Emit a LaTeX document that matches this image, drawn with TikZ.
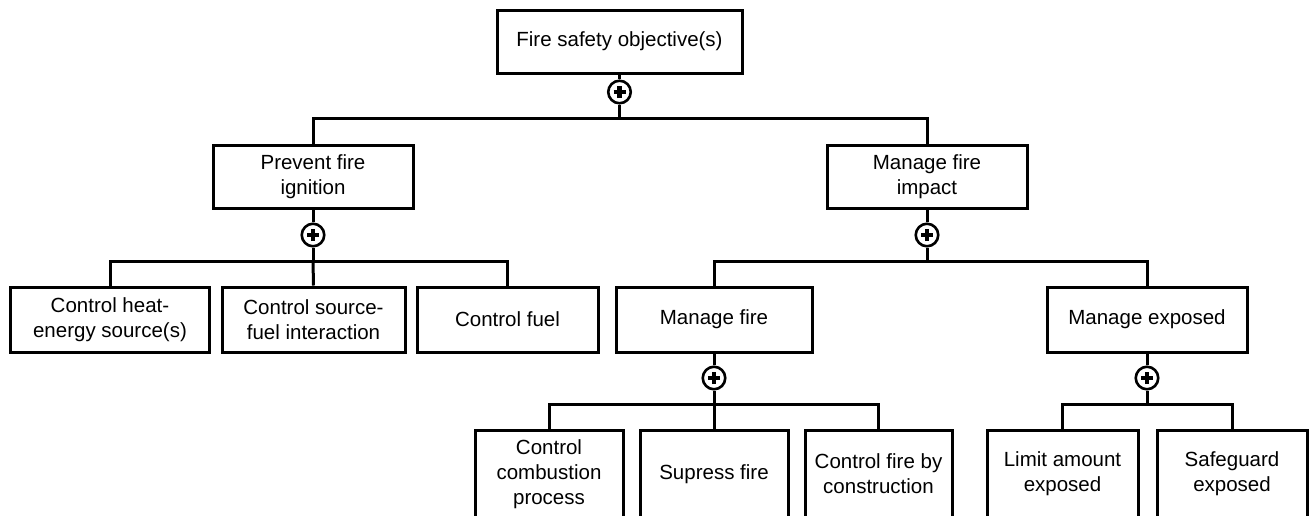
\documentclass[tikz,border=0pt]{standalone}
\usepackage{fontspec}
\setmainfont{Liberation Sans}
\usepackage{tikz}
\usetikzlibrary{positioning}

\begin{document}
\begin{tikzpicture}[x=1pt, y=-1pt,
    goal/.style={draw, line width=3pt, align=center, inner sep=0pt,
        font=\fontsize{20.5}{25}\selectfont},
    orgate/.style={circle, draw, line width=2.6pt, minimum size=22.5pt, inner sep=0pt,
        path picture={\draw[line width=4.5pt] (path picture bounding box.center) +(-6pt,0) -- +(6pt,0)
            (path picture bounding box.center) +(0,-6pt) -- +(0,6pt);}},
    link/.style={line width=3pt}]
\useasboundingbox (0,0) rectangle (1311,515);
\clip (0,0) rectangle (1311,515);

% top level
\node[goal, minimum width=245pt, minimum height=63pt] (top) at (619.5,41.5) {Fire safety objective(s)};
\node[orgate] (g0) at (619.5,92) {};

\node[goal, minimum width=200pt, minimum height=63pt] (prevent) at (313,176.5) {Prevent fire\\ignition};
\node[goal, minimum width=200pt, minimum height=63pt] (impact) at (927,176.5) {Manage fire\\impact};
\node[orgate] (g1) at (313,235) {};
\node[orgate] (g2) at (927,235) {};

% second level
\node[goal, minimum width=199pt, minimum height=65pt] (heat) at (110,319.5) {Control heat-\\energy source(s)};
\node[goal, minimum width=183pt, minimum height=65pt] (srcfuel) at (313.5,319.5) {Control source-\\fuel interaction};
\node[goal, minimum width=181pt, minimum height=65pt] (fuel) at (507.5,319.5) {Control fuel};
\node[goal, minimum width=196pt, minimum height=65pt] (mfire) at (714,319.5) {Manage fire};
\node[goal, minimum width=200pt, minimum height=65pt] (mexp) at (1147,319.5) {Manage exposed};
\node[orgate] (g3) at (714,378) {};
\node[orgate] (g4) at (1147,378) {};

% third level (cut off at the bottom)
\node[goal, minimum width=148pt, minimum height=88pt] (comb) at (549,474) {Control\\combustion\\process};
\node[goal, minimum width=148pt, minimum height=88pt] (supp) at (714,474) {Supress fire};
\node[goal, minimum width=147pt, minimum height=88pt] (constr) at (878.5,474) {Control fire by\\construction};
\node[goal, minimum width=151pt, minimum height=88pt] (limit) at (1062.5,474) {Limit amount\\exposed};
\node[goal, minimum width=150pt, minimum height=88pt] (safe) at (1232,474) {Safeguard\\exposed};

\coordinate (b0) at (619.5,118);
\coordinate (b1) at (313,261);
\coordinate (b2) at (927,261);
\coordinate (b3) at (714,404);
\coordinate (b4) at (1147,404);

\draw[link] (top) -- (g0);
\draw[link] (g0) -- (b0) -| (prevent.north);
\draw[link] (b0) -| (impact.north);

\draw[link] (prevent) -- (g1);
\draw[link] (g1) -- (b1) -| (heat.north);
\draw[link] (b1) -- (srcfuel.north);
\draw[link] (b1) -| (fuel.north);

\draw[link] (impact) -- (g2);
\draw[link] (g2) -- (b2) -| (mfire.north);
\draw[link] (b2) -| (mexp.north);

\draw[link] (mfire) -- (g3);
\draw[link] (g3) -- (b3) -| (comb.north);
\draw[link] (b3) -- (supp.north);
\draw[link] (b3) -| (constr.north);

\draw[link] (mexp) -- (g4);
\draw[link] (g4) -- (b4) -| (limit.north);
\draw[link] (b4) -| (safe.north);
\end{tikzpicture}
\end{document}
